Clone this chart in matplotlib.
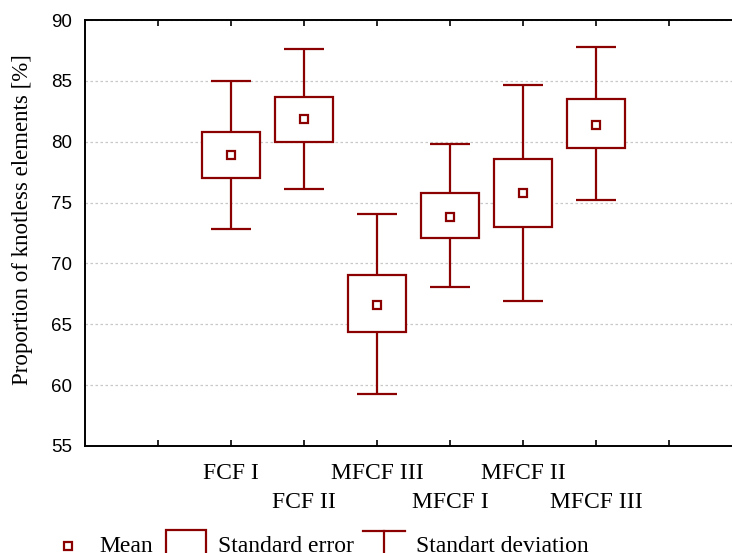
import numpy as np
import matplotlib
matplotlib.use("Agg")
import matplotlib.pyplot as plt
from matplotlib.lines import Line2D
from matplotlib.patches import Rectangle
from matplotlib.transforms import IdentityTransform

# Groups and summary statistics (proportion of knotless elements, %)
groups = ["FCF I", "FCF II", "MFCF III", "MFCF I", "MFCF II", "MFCF III"]
means = [78.9, 81.85, 66.6, 73.8, 75.8, 81.35]
se_low = [77.0, 80.0, 64.35, 72.1, 73.0, 79.5]
se_high = [80.8, 83.7, 69.05, 75.8, 78.55, 83.5]
sd_low = [72.85, 76.1, 59.3, 68.1, 66.9, 75.2]
sd_high = [85.0, 87.65, 74.05, 79.8, 84.65, 87.8]
y_ticks = [55, 60, 65, 70, 75, 80, 85, 90]

RED = "#8b0000"
SERIF = "Liberation Serif"
SANS = "Liberation Sans"
LW = 1.6

W, H = 732, 553
fig = plt.figure(figsize=(W / 100, H / 100), dpi=100)
ax = fig.add_axes([85 / W, 1 - 446 / H, 657 / W, 426 / H])

x = np.arange(2, 2 + len(groups))
means_a = np.array(means)
se_lo = np.array(se_low)
se_hi = np.array(se_high)
sd_lo = np.array(sd_low)
sd_hi = np.array(sd_high)

cap = 0.28
ax.vlines(x, sd_lo, sd_hi, color=RED, lw=LW, zorder=2)
ax.hlines(sd_lo, x - cap, x + cap, color=RED, lw=LW, zorder=2)
ax.hlines(sd_hi, x - cap, x + cap, color=RED, lw=LW, zorder=2)
ax.bar(x, se_hi - se_lo, bottom=se_lo, width=0.8, facecolor="white",
       edgecolor=RED, linewidth=LW, zorder=3)
ax.plot(x, means_a, linestyle="none", marker="s", markersize=5.6,
        markerfacecolor="white", markeredgecolor=RED, markeredgewidth=1.6,
        zorder=4)

ax.set_xlim(0, 9)
ax.set_ylim(55, 90)

ax.set_yticks(y_ticks)
ax.set_yticklabels([str(v) for v in y_ticks], fontfamily=SANS, fontsize=13.5)
ax.tick_params(axis="y", length=0, pad=9.5)

# Category labels alternate between two rows: the upper row on major ticks,
# the lower row (plus the unlabeled end ticks) on minor ticks.
upper = [x[i] for i in range(0, len(groups), 2)]
lower = [x[i] for i in range(1, len(groups), 2)]
ax.set_xticks(upper)
ax.set_xticklabels([groups[i] for i in range(0, len(groups), 2)],
                   fontfamily=SERIF, fontsize=17)
minor_pos = [1] + lower + [8]
minor_lab = [""] + [groups[i] for i in range(1, len(groups), 2)] + [""]
ax.set_xticks(minor_pos, minor=True)
ax.set_xticklabels(minor_lab, minor=True, fontfamily=SERIF, fontsize=17)
ax.tick_params(axis="x", which="both", direction="in", top=True, length=4,
               width=1.2)
ax.tick_params(axis="x", which="major", pad=12.3)
ax.tick_params(axis="x", which="minor", pad=33.0)

ax.yaxis.grid(True, color="#c8c8c8", linestyle=(0, (2, 2)), linewidth=0.9)
ax.set_axisbelow(True)
for side in ("left", "top", "bottom", "right"):
    ax.spines[side].set_linewidth(1.4)

fig.text(23 / W, 1 - 220 / H, "Proportion of knotless elements [%]",
         rotation=90, ha="center", va="center", fontfamily=SERIF, fontsize=16.5)

# Legend keys, placed in pixel units along the bottom edge
px = IdentityTransform()
def ytop(v):
    return H - v

fig.add_artist(Line2D([67.7], [ytop(546)], transform=px, linestyle="none",
                      marker="s", markersize=5.6, markerfacecolor="white",
                      markeredgecolor=RED, markeredgewidth=1.6))
fig.text(99, ytop(552.5), "Mean", transform=px, fontfamily=SERIF, fontsize=17,
         va="baseline", ha="left")
fig.add_artist(Rectangle((166, ytop(570)), 40, 40, transform=px,
                         facecolor="none", edgecolor=RED, linewidth=LW))
fig.text(218, ytop(552.5), "Standard error", transform=px, fontfamily=SERIF,
         fontsize=17, va="baseline", ha="left")
fig.add_artist(Line2D([363, 404.5], [ytop(530.5), ytop(530.5)], transform=px,
                      color=RED, lw=LW))
fig.add_artist(Line2D([383.5, 383.5], [ytop(530.5), ytop(570)], transform=px,
                      color=RED, lw=LW))
fig.text(416, ytop(552.5), "Standart deviation", transform=px, fontfamily=SERIF,
         fontsize=17, va="baseline", ha="left")

fig.savefig("out.png", dpi=100)
